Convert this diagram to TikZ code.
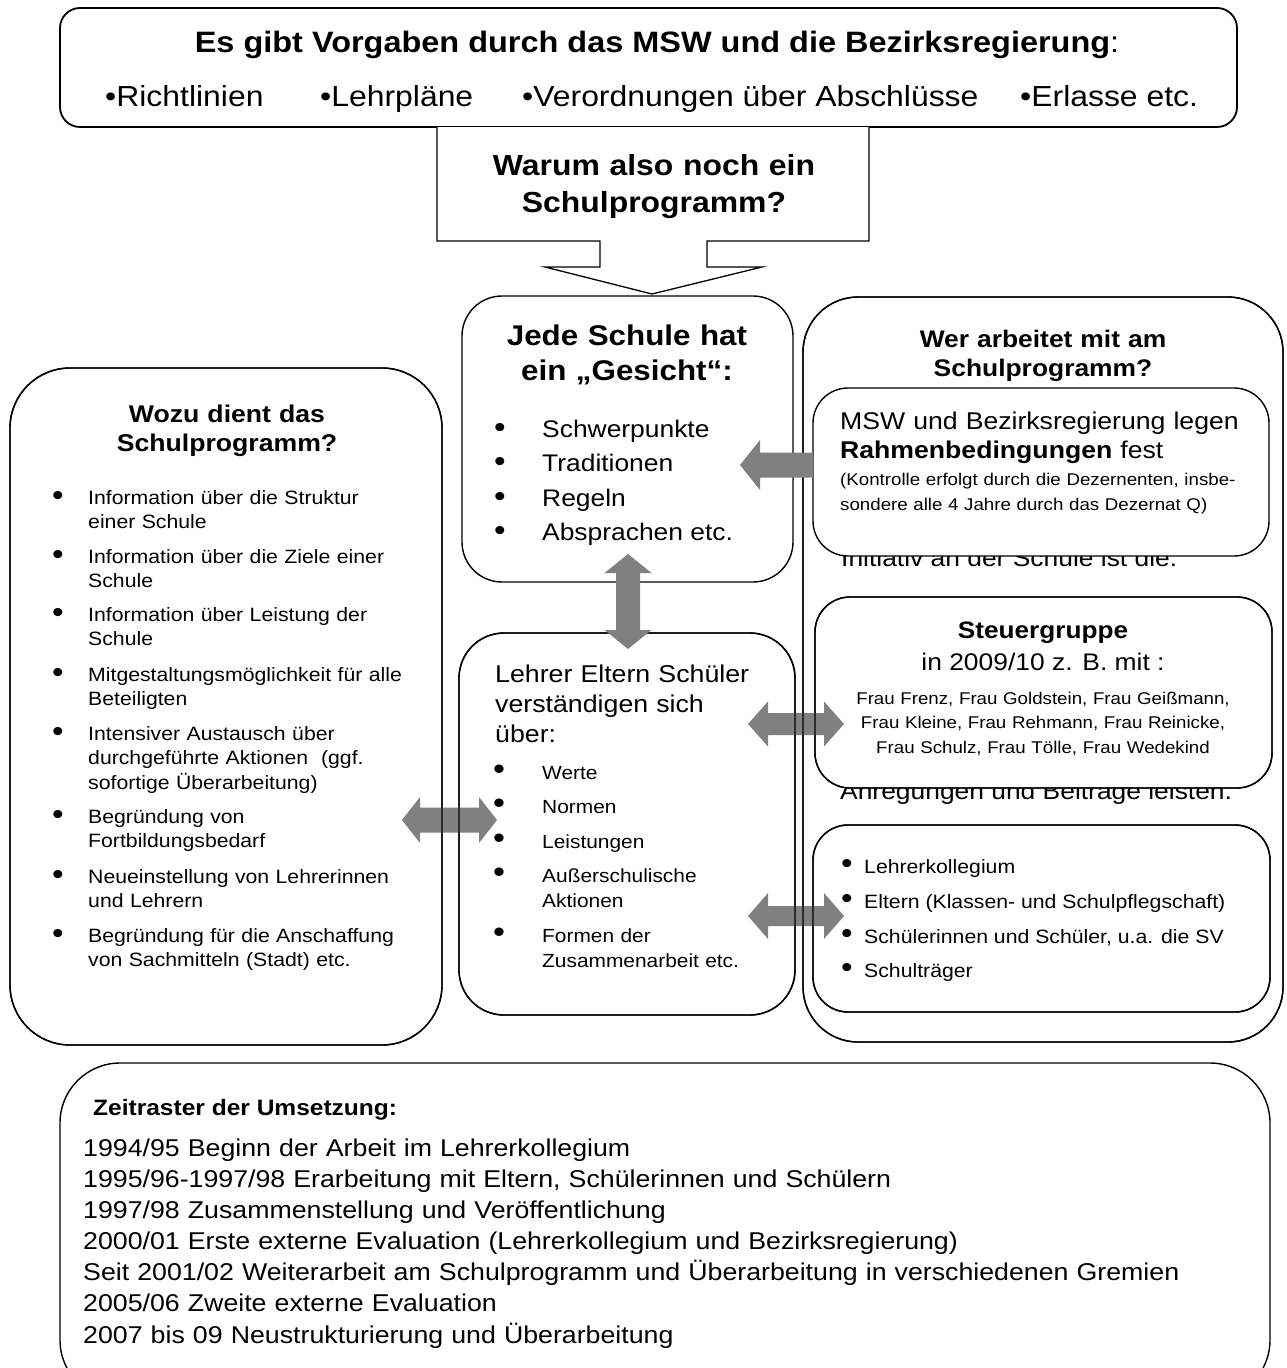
\documentclass[tikz,border=0pt]{standalone}
\usepackage{fontspec}
\setmainfont{Liberation Sans}[FakeStretch=1.1]
\definecolor{arrowgray}{HTML}{808080}
\newcommand\fsz[2]{\fontsize{#1pt}{#2pt}\selectfont}
\newcommand\bl[3]{\makebox[#1][l]{\raisebox{#2}{\fontsize{#3pt}{#3pt}\selectfont •}}}
\begin{document}
\begin{tikzpicture}[x=1pt,y=-1pt,
  box/.style={draw=black, line width=1.4pt},
  tx/.style={inner sep=0pt, anchor=base west, align=left},
  ctx/.style={inner sep=0pt, anchor=base, align=center},
  garrow/.style={fill=arrowgray, draw=none}]
\useasboundingbox (0,0) rectangle (1287,1368);

% ---------- top box ----------
\draw[box, line width=1.8pt, rounded corners=20pt] (60,8) rectangle (1237,127);
\node[ctx, font=\fsz{29.5}{34}] (title) at (657,52) {\textbf{Es gibt Vorgaben durch das MSW und die Bezirksregierung}:};
\begin{scope}[every node/.style={tx, font=\fsz{29}{34}}]
\node (v1) at (105,106) {•Richtlinien};
\node (v2) at (320,106) {•Lehrpläne};
\node (v3) at (522,106) {•Verordnungen über Abschlüsse};
\node (v4) at (1020,106) {•Erlasse etc.};
\end{scope}

% ---------- callout ----------
\draw[box, fill=white, line width=1.3pt] (437,127) -- (437,241) -- (600,241) -- (600,267) -- (545,267)
  -- (652,294) -- (762,267) -- (707,267) -- (707,241) -- (869,241) -- (869,127);
\node[ctx, text width=420pt, font=\fsz{29}{37}\bfseries] (warum) at (654,175) {Warum also noch ein\\Schulprogramm?};

% ---------- left box ----------
\draw[box, rounded corners=60pt] (10,368) rectangle (442,1045);
\node[ctx, text width=400pt, font=\fsz{24.2}{29}\bfseries] (wozu) at (227,422) {Wozu dient das\\Schulprogramm?};
\begin{scope}[every node/.style={tx, text width=370pt, font=\fsz{19.3}{24.5}}]
\node (w1) at (52,504) {\bl{36pt}{-1pt}{30}Information über die Struktur\\\hspace*{36pt}einer Schule};
\node (w2) at (52,563) {\bl{36pt}{-1pt}{30}Information über die Ziele einer\\\hspace*{36pt}Schule};
\node (w3) at (52,621) {\bl{36pt}{-1pt}{30}Information über Leistung der\\\hspace*{36pt}Schule};
\node (w4) at (52,681) {\bl{36pt}{-1pt}{30}Mitgestaltungsmöglichkeit für alle\\\hspace*{36pt}Beteiligten};
\node (w5) at (52,740) {\bl{36pt}{-1pt}{30}Intensiver Austausch über\\\hspace*{36pt}durchgeführte Aktionen\ \ (ggf.\\\hspace*{36pt}sofortige Überarbeitung)};
\node (w6) at (52,823) {\bl{36pt}{-1pt}{30}Begründung von\\\hspace*{36pt}Fortbildungsbedarf};
\node (w7) at (52,883) {\bl{36pt}{-1pt}{30}Neueinstellung von Lehrerinnen\\\hspace*{36pt}und Lehrern};
\node (w8) at (52,942) {\bl{36pt}{-1pt}{30}Begründung für die Anschaffung\\\hspace*{36pt}von Sachmitteln (Stadt) etc.};
\end{scope}

% ---------- Jede Schule ----------
\draw[box, rounded corners=40pt] (462,296) rectangle (793,582);
\node[ctx, text width=320pt, font=\fsz{28.5}{35}\bfseries] (jede) at (627,345) {Jede Schule hat\\ein „Gesicht“:};
\begin{scope}[every node/.style={tx, font=\fsz{24}{30}}]
\node (j1) at (494,437) {\bl{48pt}{0pt}{30}Schwerpunkte};
\node (j2) at (494,471) {\bl{48pt}{0pt}{30}Traditionen};
\node (j3) at (494,506) {\bl{48pt}{0pt}{30}Regeln};
\node (j4) at (494,540) {\bl{48pt}{0pt}{30}Absprachen etc.};
\end{scope}

% ---------- Lehrer box ----------
\draw[box, rounded corners=45pt] (459,633) rectangle (795,1015);
\node[tx, text width=300pt, font=\fsz{24.3}{30}] (lehrer) at (495,682) {Lehrer Eltern Schüler\\verständigen sich\\über:};
\begin{scope}[every node/.style={tx, text width=300pt, font=\fsz{19}{25}}]
\node (l1) at (493,779) {\bl{49pt}{0pt}{31}Werte};
\node (l2) at (493,813) {\bl{49pt}{0pt}{31}Normen};
\node (l3) at (493,848) {\bl{49pt}{0pt}{31}Leistungen};
\node (l4) at (493,882) {\bl{49pt}{0pt}{31}Außerschulische\\\hspace*{49pt}Aktionen};
\node (l5) at (493,942) {\bl{49pt}{0pt}{31}Formen der\\\hspace*{49pt}Zusammenarbeit etc.};
\end{scope}

% ---------- right column ----------
\draw[box, rounded corners=55pt] (803,297) rectangle (1283,1042);
\node[ctx, text width=420pt, font=\fsz{24}{29}\bfseries] (wer) at (1043,347) {Wer arbeitet mit am\\Schulprogramm?};
\node[tx, font=\fsz{24}{29}] (hidden1) at (841,566) {Initiativ an der Schule ist die:};
\node[tx, font=\fsz{24}{29}] (hidden2) at (840,799) {Anregungen und Beiträge leisten.};

\draw[box, fill=white, rounded corners=35pt] (813,388) rectangle (1269,556);
\node[tx, text width=430pt, font=\fsz{24.2}{29}] (msw) at (840,429) {MSW und Bezirksregierung legen\\\textbf{Rahmenbedingungen} fest};
\node[tx, text width=410pt, font=\fsz{17}{25}] (kontrolle) at (840,485) {\makebox[401pt][s]{(Kontrolle erfolgt durch die Dezernenten, insbe-}\\sondere alle 4 Jahre durch das Dezernat Q)};

\draw[box, fill=white, rounded corners=35pt] (815,597) rectangle (1272,788);
\node[ctx, font=\fsz{23.8}{29}\bfseries] (steuer) at (1043,638) {Steuergruppe};
\node[ctx, font=\fsz{24}{29}] (steuer2) at (1043,670) {in 2009/10 z. B. mit :};
\node[ctx, text width=440pt, font=\fsz{17}{24.5}] (namen) at (1043,704) {Frau Frenz, Frau Goldstein, Frau Geißmann,\\Frau Kleine, Frau Rehmann, Frau Reinicke,\\Frau Schulz, Frau Tölle, Frau Wedekind};

\draw[box, fill=white, rounded corners=35pt] (813,825) rectangle (1270,1012);
\begin{scope}[every node/.style={tx, font=\fsz{19.3}{25}}]
\node (b1) at (841,873) {\bl{23pt}{0pt}{30}Lehrerkollegium};
\node (b2) at (841,908) {\bl{23pt}{0pt}{30}Eltern (Klassen- und Schulpflegschaft)};
\node (b3) at (841,943) {\bl{23pt}{0pt}{30}Schülerinnen und Schüler, u.a. die SV};
\node (b4) at (841,977) {\bl{23pt}{0pt}{30}Schulträger};
\end{scope}

% ---------- arrows ----------
\fill[garrow] (748,724) -- (768,701.5) -- (768,713) -- (824,713) -- (824,701.5) -- (844,724)
  -- (824,746.5) -- (824,735) -- (768,735) -- (768,746.5) -- cycle;
\fill[garrow] (402,820) -- (420,797) -- (420,807.5) -- (479,807.5) -- (479,797) -- (497,820)
  -- (479,843) -- (479,832.5) -- (420,832.5) -- (420,843) -- cycle;
\fill[garrow] (748,916) -- (768,893) -- (768,906) -- (824,906) -- (824,893) -- (844,916)
  -- (824,939) -- (824,926) -- (768,926) -- (768,939) -- cycle;
% redraw lines crossing the double arrows
\draw[box, rounded corners=60pt] (10,368) rectangle (442,1045);
\draw[box, rounded corners=45pt] (459,633) rectangle (795,1015);
\draw[box, rounded corners=55pt] (803,297) rectangle (1283,1042);
\draw[box, rounded corners=35pt] (815,597) rectangle (1272,788);
\draw[box, rounded corners=35pt] (813,825) rectangle (1270,1012);
% arrows on top
\fill[garrow] (740,465) -- (760,440) -- (760,452.5) -- (813,452.5) -- (813,477.5) -- (760,477.5)
  -- (760,490) -- cycle;
\fill[garrow] (628,554) -- (651.5,573) -- (640,573) -- (640,630) -- (651.5,630) -- (628,649)
  -- (604.5,630) -- (616,630) -- (616,573) -- (604.5,573) -- cycle;

% ---------- bottom box ----------
\begin{scope}
\clip (0,0) rectangle (1287,1368);
\draw[box, rounded corners=60pt] (60,1063) rectangle (1270,1400);
\end{scope}
\node[tx, font=\fsz{22.3}{28}\bfseries] (zeit) at (93,1115) {Zeitraster der Umsetzung:};
\node[tx, text width=1170pt, font=\fsz{24.3}{31.17}] (zeilen) at (83,1156) {1994/95 Beginn der Arbeit im Lehrerkollegium\\
1995/96-1997/98 Erarbeitung mit Eltern, Schülerinnen und Schülern\\
1997/98 Zusammenstellung und Veröffentlichung\\
2000/01 Erste externe Evaluation (Lehrerkollegium und Bezirksregierung)\\
Seit 2001/02 Weiterarbeit am Schulprogramm und Überarbeitung in verschiedenen Gremien\\
2005/06 Zweite externe Evaluation\\
2007 bis 09 Neustrukturierung und Überarbeitung};
\end{tikzpicture}
\end{document}
